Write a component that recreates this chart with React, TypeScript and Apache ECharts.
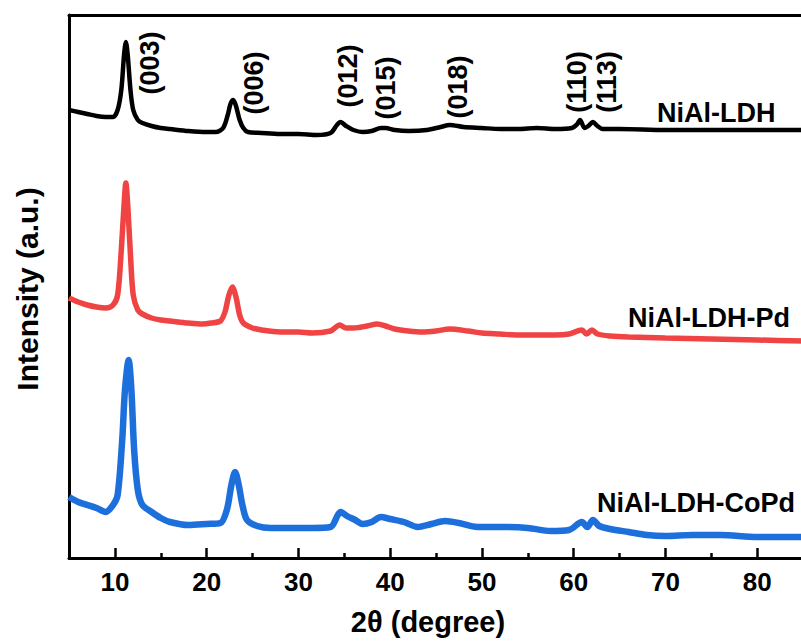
import React, { useEffect, useRef } from "react";
import * as echarts from "echarts";

// 2θ (degree) and intensity (a.u.), one pair of arrays per sample
const ldhX = [5, 6, 7, 8, 9, 9.8, 10.3, 10.7, 11.0, 11.2, 11.4, 11.7, 12.0, 12.5, 13, 14, 15, 16, 18, 20, 21, 21.8, 22.3, 22.6, 22.9, 23.2, 23.6, 24.0, 24.5, 26, 28, 30, 32, 33.5, 34.2, 34.6, 35.2, 36, 37, 38, 39, 39.5, 40.5, 42, 44, 45.5, 46.5, 48, 50, 52, 54, 56, 58, 59.8, 60.4, 60.7, 61.2, 61.6, 62.1, 62.6, 63.2, 65, 70, 75, 80, 85];
const ldhY = [448, 446, 444, 442, 441, 441, 448, 468, 503, 516, 503, 468, 448, 438, 435, 432, 430, 429, 427, 426, 426, 430, 443, 454, 458, 452, 438, 430, 426, 425, 424, 424, 423, 425, 433, 436, 432, 428, 426, 427, 430, 430, 428, 427, 428, 431, 433, 431, 430, 429, 429, 430, 429, 430, 434, 438, 430, 432, 436, 432, 429, 429, 428, 428, 428, 428];

const pdX = [5, 6, 7, 8, 9, 9.8, 10.3, 10.7, 11.0, 11.2, 11.4, 11.7, 12.0, 12.5, 13, 14, 15, 16, 18, 19.5, 20.5, 21.5, 22.0, 22.4, 22.8, 23.2, 23.6, 24.0, 25, 26, 28, 30, 31.5, 33.5, 34.1, 34.5, 35.2, 36, 37.5, 38.6, 39.5, 40.5, 42, 43.5, 45, 46.5, 48.5, 50, 52, 54, 56, 58, 59.5, 60.9, 61.4, 62.0, 62.6, 64, 66, 70, 75, 80, 85];
const pdY = [260, 256, 253, 251, 250, 253, 263, 308, 353, 375, 353, 303, 263, 248, 244, 240, 238, 237, 235, 234, 235, 237, 246, 262, 271, 261, 243, 235, 230, 228, 226, 226, 225, 227, 231, 233, 230, 230, 232, 234, 232, 229, 227, 226, 227, 229, 227, 225, 224, 223, 223, 223, 224, 228, 224, 228, 224, 222, 221, 220, 219, 218, 217];

const copdX = [5, 6, 7, 8, 9, 9.8, 10.3, 10.8, 11.1, 11.5, 11.8, 12.1, 12.5, 13, 14, 15, 16, 18, 20, 21.5, 22.2, 22.7, 23.1, 23.5, 23.9, 24.4, 25.5, 27, 29, 31.5, 33.5, 34.3, 34.6, 35.3, 36.2, 37, 38, 39, 40, 41.5, 43, 44.5, 46, 47.5, 49.5, 52, 55, 57.5, 59.5, 60.9, 61.5, 62.1, 62.8, 64, 66, 68, 70, 73, 76, 80, 85];
const copdY = [61, 56, 53, 50, 46, 53, 63, 118, 168, 198, 168, 108, 68, 53, 46, 40, 36, 33, 34, 35, 48, 73, 86, 73, 53, 38, 32, 30, 30, 30, 31, 43, 46, 42, 38, 34, 36, 41, 39, 36, 31, 34, 37, 35, 31, 31, 30, 27, 28, 36, 31, 38, 32, 29, 26, 23, 22, 23, 23, 21, 21];

const sampleNames = ["NiAl-LDH", "NiAl-LDH-Pd", "NiAl-LDH-CoPd"];
const majorTicks = [10, 20, 30, 40, 50, 60, 70, 80];
const minorTicks = [15, 25, 35, 45, 55, 65, 75];
const peakLabels = ["(003)", "(006)", "(012)", "(015)", "(018)", "(110)", "(113)"];

const FONT = "Arial, 'Liberation Sans', Helvetica, sans-serif";

function zip(xs: number[], ys: number[]) {
  return xs.map((x, i) => [x, ys[i]]);
}

export default function App() {
  const ref = useRef<HTMLDivElement>(null);

  useEffect(() => {
    if (!ref.current) return;
    const chart = echarts.init(ref.current, null, { renderer: "svg" });

    const peakPos = [
      [150, 63],
      [254, 83],
      [348, 76],
      [386, 88],
      [458, 87],
      [577, 82],
      [607, 82],
    ];
    const namePos = [
      [657, 113],
      [628, 318],
      [597, 503],
    ];

    const graphics: any[] = [];
    peakLabels.forEach((t, i) => {
      graphics.push({
        type: "text",
        x: peakPos[i][0],
        y: peakPos[i][1],
        rotation: Math.PI / 2,
        style: {
          text: t,
          font: `bold 27px ${FONT}`,
          fill: "#000",
          align: "center",
          verticalAlign: "middle",
        },
      });
    });
    sampleNames.forEach((t, i) => {
      graphics.push({
        type: "text",
        x: namePos[i][0],
        y: namePos[i][1],
        style: {
          text: t,
          font: `bold 27px ${FONT}`,
          fill: "#000",
          align: "left",
          verticalAlign: "middle",
        },
      });
    });
    graphics.push({
      type: "text",
      x: 428,
      y: 622,
      style: {
        text: "2θ (degree)",
        font: `bold 29px ${FONT}`,
        fill: "#000",
        align: "center",
        verticalAlign: "middle",
      },
    });
    graphics.push({
      type: "text",
      x: 27,
      y: 289,
      rotation: Math.PI / 2,
      style: {
        text: "Intensity (a.u.)",
        font: `bold 30px ${FONT}`,
        fill: "#000",
        align: "center",
        verticalAlign: "middle",
      },
    });

    chart.setOption({
      animation: false,
      backgroundColor: "#fff",
      grid: { left: 69, top: 15, right: 7, bottom: 83, containLabel: false },
      xAxis: [
        {
          type: "value",
          min: 5,
          max: 85,
          position: "bottom",
          axisLine: { show: true, lineStyle: { color: "#000", width: 3 } },
          axisTick: {
            show: true,
            inside: true,
            length: 10,
            lineStyle: { color: "#000", width: 2.5 },
            customValues: majorTicks,
          },
          axisLabel: {
            show: true,
            margin: 11,
            color: "#000",
            fontSize: 26,
            fontWeight: "bold",
            fontFamily: FONT,
            customValues: majorTicks,
          },
          splitLine: { show: false },
        },
        {
          type: "value",
          min: 5,
          max: 85,
          position: "bottom",
          axisLine: { show: false },
          axisTick: {
            show: true,
            inside: true,
            length: 5,
            lineStyle: { color: "#000", width: 2.5 },
            customValues: minorTicks,
          },
          axisLabel: { show: false },
          splitLine: { show: false },
        },
        {
          type: "value",
          min: 5,
          max: 85,
          position: "top",
          axisLine: { show: true, lineStyle: { color: "#000", width: 3 } },
          axisTick: { show: false },
          axisLabel: { show: false },
          splitLine: { show: false },
        },
      ],
      yAxis: {
        type: "value",
        min: 0,
        max: 543,
        axisLine: { show: true, lineStyle: { color: "#000", width: 3 } },
        axisTick: { show: false },
        axisLabel: { show: false },
        splitLine: { show: false },
      },
      series: [
        {
          name: sampleNames[0],
          type: "line",
          data: zip(ldhX, ldhY),
          showSymbol: false,
          smooth: 0.3,
          lineStyle: { color: "#000000", width: 4.5 },
        },
        {
          name: sampleNames[1],
          type: "line",
          data: zip(pdX, pdY),
          showSymbol: false,
          smooth: 0.3,
          lineStyle: { color: "#F04343", width: 5.5 },
        },
        {
          name: sampleNames[2],
          type: "line",
          data: zip(copdX, copdY),
          showSymbol: false,
          smooth: 0.3,
          lineStyle: { color: "#1D6FDC", width: 6.5 },
        },
      ],
      graphic: graphics,
    });

    return () => {
      chart.dispose();
    };
  }, []);

  return (
    <div
      ref={ref}
      style={{ position: "fixed", left: 0, top: 0, width: 810, height: 641 }}
    />
  );
}
